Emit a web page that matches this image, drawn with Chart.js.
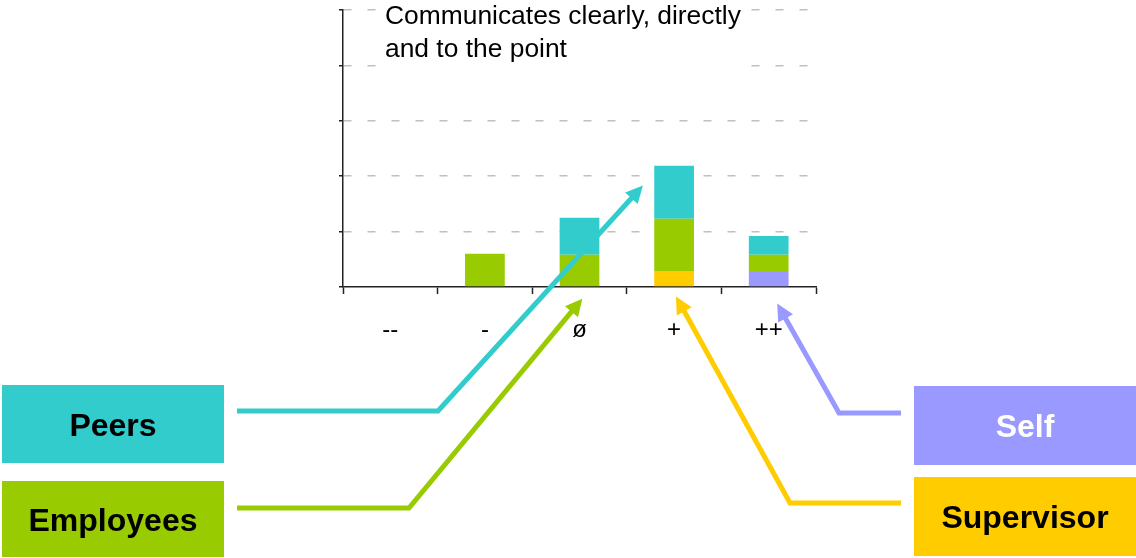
<!DOCTYPE html>
<html>
<head>
<meta charset="utf-8">
<script src="https://cdn.jsdelivr.net/npm/chart.js@4/dist/chart.umd.min.js"></script>
<style>
  html, body { margin: 0; padding: 0; background: #ffffff; }
  #wrap { width: 1136px; height: 558px; position: relative; }
</style>
</head>
<body>
<div id="wrap"><canvas id="chart" width="1136" height="558"></canvas></div>
<script>
// Rating scale categories and the share of answers from each rater group
const categories = ['--', '-', 'ø', '+', '++'];
const selfValues = [0, 0, 0, 0, 0.29];
const supervisorValues = [0, 0, 0, 0.29, 0];
const employeeValues = [0, 0.6, 0.58, 0.94, 0.29];
const peerValues = [0, 0, 0.67, 0.96, 0.34];
const yMin = 0;
const yMax = 5;
const yStep = 1;
const titleLines = ['Communicates clearly, directly', 'and to the point'];

const groupNames = ['Self', 'Supervisor', 'Employees', 'Peers'];
const groupColors = ['#9999ff', '#ffcc00', '#99cc00', '#33cccc'];
const groupTextColors = ['#ffffff', '#000000', '#000000', '#000000'];

const FONT = '"Liberation Sans", Arial, Helvetica, sans-serif';

// Legend boxes with elbow arrows pointing at the bars; the tip is given in axis units
const callouts = [
  { group: 'Peers',      box: [2, 385, 222, 78],   from: [237, 411], elbow: [438, 411], tip: [2.67, 1.83] },
  { group: 'Employees',  box: [2, 481, 222, 76],   from: [237, 508], elbow: [409, 508], tip: [2.03, -0.21] },
  { group: 'Self',       box: [914, 386, 222, 79], from: [901, 413], elbow: [839, 413], tip: [4.09, -0.30] },
  { group: 'Supervisor', box: [914, 477, 222, 79], from: [901, 503], elbow: [790, 503], tip: [3.02, -0.17] }
];

function drawArrow(ctx, pts, color) {
  const n = pts.length;
  const [tx, ty] = pts[n - 1];
  const [px, py] = pts[n - 2];
  const ang = Math.atan2(ty - py, tx - px);
  const head = 17, half = 8.5;
  const cos = Math.cos(ang), sin = Math.sin(ang);
  const bx = tx - head * cos, by = ty - head * sin;

  ctx.strokeStyle = color;
  ctx.lineWidth = 5;
  ctx.lineJoin = 'miter';
  ctx.lineCap = 'butt';
  ctx.beginPath();
  ctx.moveTo(pts[0][0], pts[0][1]);
  for (let i = 1; i < n - 1; i++) ctx.lineTo(pts[i][0], pts[i][1]);
  ctx.lineTo(bx + 2 * cos, by + 2 * sin);
  ctx.stroke();

  ctx.fillStyle = color;
  ctx.beginPath();
  ctx.moveTo(tx, ty);
  ctx.lineTo(bx - half * sin, by + half * cos);
  ctx.lineTo(bx + half * sin, by - half * cos);
  ctx.closePath();
  ctx.fill();
}

const calloutPlugin = {
  id: 'calloutPlugin',
  afterDraw(chart) {
    const { ctx, chartArea } = chart;
    const xs = chart.scales.x, ys = chart.scales.y;
    ctx.save();

    // Statement title inside the plot, on an opaque text box
    ctx.font = '26.4px ' + FONT;
    const titleX = chartArea.left + 42;
    const titleW = Math.max(...titleLines.map(t => ctx.measureText(t).width));
    ctx.fillStyle = '#ffffff';
    ctx.fillRect(titleX - 9, 0, titleW + 14, chartArea.top + 62);
    ctx.fillStyle = '#000000';
    ctx.textAlign = 'left';
    ctx.textBaseline = 'alphabetic';
    titleLines.forEach((t, i) => ctx.fillText(t, titleX, chartArea.top + 14 + i * 33));

    callouts.forEach(c => {
      const gi = groupNames.indexOf(c.group);
      const color = groupColors[gi];
      const [bx, by, bw, bh] = c.box;
      ctx.fillStyle = color;
      ctx.fillRect(bx, by, bw, bh);
      ctx.fillStyle = groupTextColors[gi];
      ctx.font = 'bold 32px ' + FONT;
      ctx.textAlign = 'center';
      ctx.textBaseline = 'alphabetic';
      ctx.fillText(c.group, bx + bw / 2, by + bh / 2 + 11.5);

      const tip = [xs.getPixelForValue(c.tip[0]), ys.getPixelForValue(c.tip[1])];
      drawArrow(ctx, [c.from, c.elbow, tip], color);
    });
    ctx.restore();
  }
};

const seriesValues = [selfValues, supervisorValues, employeeValues, peerValues];

new Chart(document.getElementById('chart'), {
  type: 'bar',
  data: {
    labels: categories,
    datasets: groupNames.map((name, i) => ({
      label: name,
      data: seriesValues[i],
      backgroundColor: groupColors[i],
      borderWidth: 0,
      categoryPercentage: 0.42,
      barPercentage: 1
    }))
  },
  options: {
    responsive: false,
    animation: false,
    devicePixelRatio: 1,
    layout: { padding: { left: 0, top: 10, right: 320, bottom: 0 } },
    plugins: {
      legend: { display: false },
      tooltip: { enabled: false },
      title: { display: false }
    },
    scales: {
      x: {
        stacked: true,
        offset: true,
        grid: {
          display: true,
          drawOnChartArea: false,
          drawTicks: true,
          tickLength: 7,
          offset: true,
          tickColor: '#222222',
          tickWidth: 1.5
        },
        border: { display: true, color: '#222222', width: 1.5 },
        ticks: {
          color: '#000000',
          font: { family: FONT, size: 24 },
          padding: 22,
          maxRotation: 0
        },
        afterFit(scale) { scale.height = 271; }
      },
      y: {
        stacked: true,
        min: yMin,
        max: yMax,
        ticks: { display: false, stepSize: yStep },
        grid: {
          color: c => (c.tick && c.tick.value === 0 ? 'rgba(0,0,0,0)' : '#c0c0c0'),
          lineWidth: 1.5,
          drawTicks: true,
          tickLength: 4,
          tickColor: '#222222',
          tickWidth: 1.5
        },
        border: { display: true, color: '#222222', width: 1.5, dash: [8, 16], dashOffset: 0 },
        afterFit(scale) { scale.width = 343; }
      }
    }
  },
  plugins: [calloutPlugin]
});
</script>
</body>
</html>
